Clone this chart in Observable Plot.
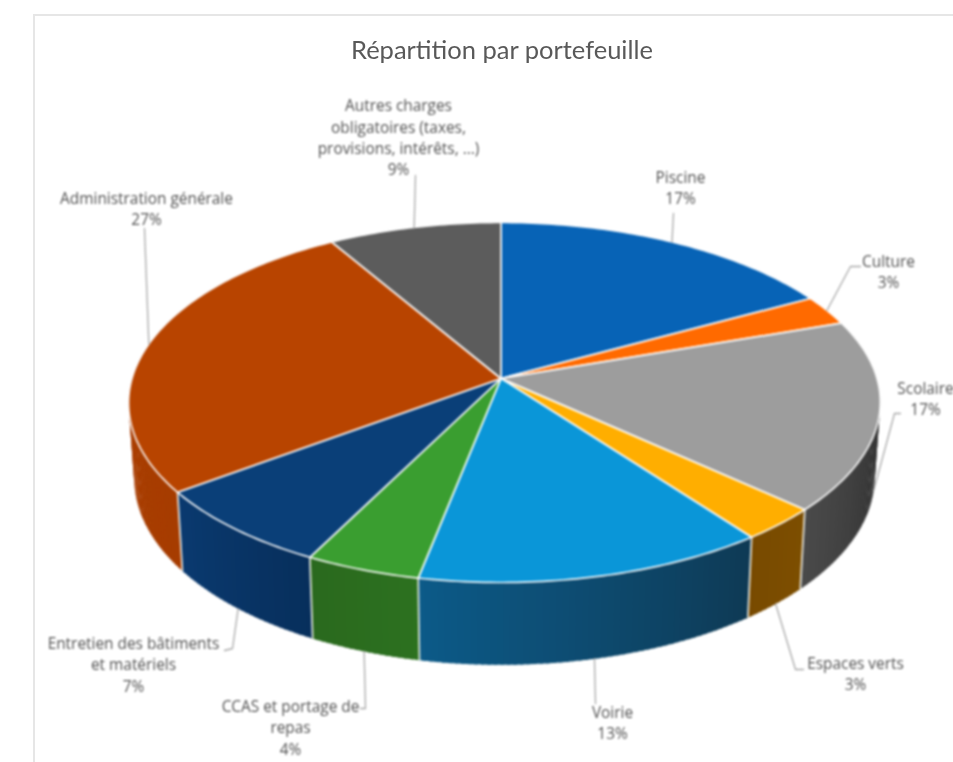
<!DOCTYPE html>
<html lang="fr">
<head>
<meta charset="utf-8">
<script src="https://cdn.jsdelivr.net/npm/d3@7"></script>
<script src="https://cdn.jsdelivr.net/npm/@observablehq/plot@0.6"></script>
<style>
html,body{margin:0;padding:0;background:#fff;overflow:hidden}
#card{position:absolute;left:33px;top:14px;right:0;bottom:0;border-left:2px solid #e6e6e6;border-top:2px solid #e6e6e6}
#title{position:relative;height:70px;box-sizing:border-box;padding-top:31px;margin:0;text-align:center;padding-left:51px;
 font:400 25.5px/36px Lato,sans-serif;color:#595959;filter:blur(.6px)}
#chart{position:relative;filter:blur(.9px)}
#chart svg{display:block;overflow:hidden}
</style>
</head>
<body>
<div id="card"></div>
<h1 id="title">Répartition par portefeuille</h1>
<div id="chart"></div>
<script>
// --- data (share of the budget per portfolio, %) ---
const categories = ["Piscine","Culture","Scolaire","Espaces verts","Voirie","CCAS et portage de repas","Entretien des bâtiments et matériels","Administration générale","Autres charges obligatoires (taxes, provisions, intérêts, ...)"];
const labelLines = ["Piscine","Culture","Scolaire","Espaces verts","Voirie","CCAS et portage de\nrepas","Entretien des bâtiments\net matériels","Administration générale","Autres charges\nobligatoires (taxes,\nprovisions, intérêts, ...)"];
const shares = [17.0,2.7,17.1,3.0,13.3,4.4,7.4,26.6,8.5];

// --- colours ---
const topColors = ["#0763b6","#ff6a00","#9d9d9d","#ffae00","#0a96d8","#3a9e30","#0a3f78","#b84400","#5c5c5c"];
const sideFrom  = ["#0763b6","#ff6a00","#2b2b2b","#7d4e00","#0e3a55","#2c711f","#072f5c","#a63c00","#5c5c5c"];
const sideTo    = ["#0763b6","#ff6a00","#4a4a4a","#784a00","#0c5a88","#2a691e","#0a3a70","#aa3e00","#5c5c5c"];
const inkColor = "#525252", leaderColor = "#a9a9a9";

// --- layout of the annotations (page coordinates) ---
const labelX = [680,888,925,855,612,290,133,146,398];
const labelY = [186,270,397,672,721,726,663,207,136];
const leaderBends = [[[673,213]],[[850,266],[860,266]],[[894,413],[900,413]],[[795,669],[803,669]],[[595,703]],[[365,708],[360,708]],[[232,648],[224,650]],[[144,228]],[[415,175]]];

// --- projection of the tilted disc ---
const cx = 500.5, cy = 378, A = 372.5, B = 176.8, persp = 0.1333, H = 74, shrink = 0.985, skew = 3.5;
const rad = p => p / 100 * 2 * Math.PI;
const top3d = p => { const u = Math.sin(rad(p)), v = Math.cos(rad(p)), w = 1 + persp * v; return [cx + A*u/w + skew*u*u, cy - B*v/w]; };
const bottom3d = p => { const u = Math.sin(rad(p)), v = Math.cos(rad(p)), w = 1 + persp * v; return [cx + shrink*A*u/w + skew*u*u, cy - shrink*B*v/w + H/w]; };

// cumulative bounds of every slice
const slices = []; let c = 0;
shares.forEach((s,i) => { slices.push({i, start:c, end:c+s, mid:c+s/2}); c += s; });

// side walls: thin overlapping strips, only the visible front part
const wall = [], frontStart = 25.5, frontEnd = 75, step = 0.25, overlap = 0.12;
const sep = [];
slices.forEach(({i,start,end}) => {
  const a = Math.max(start,frontStart), b = Math.min(end,frontEnd);
  if (a >= b) return;
  const col = d3.interpolateRgb(sideFrom[i], sideTo[i]);
  const n = Math.max(1, Math.ceil((b-a)/step));
  for (let k=0;k<n;k++){
    const p0 = a+(b-a)*k/n, p1 = a+(b-a)*(k+1)/n + overlap, f = col((k+.5)/n), id = `${i}-${k}`;
    for (const [x,y] of [top3d(p0),top3d(p1),bottom3d(p1),bottom3d(p0)]) wall.push({x,y,id,f});
  }
  if (end < frontEnd) { const [x1,y1]=top3d(end),[x2,y2]=bottom3d(end); sep.push({x1,y1,x2,y2}); }
});

// top faces
const faces = [];
slices.forEach(({i,start,end}) => {
  faces.push({x:cx,y:cy,i,f:topColors[i]});
  const n = Math.ceil((end-start)/0.25);
  for (let k=0;k<=n;k++){ const [x,y]=top3d(start+(end-start)*k/n); faces.push({x,y,i,f:topColors[i]}); }
  faces.push({x:cx,y:cy,i,f:topColors[i]});
});

// leader lines start on the rim at the middle of each slice
const leaders = [];
slices.forEach(({i,mid}) => {
  const front = Math.cos(rad(mid)) < 0;
  const [x,y] = front ? bottom3d(mid) : top3d(mid);
  leaders.push({x,y,i});
  leaderBends[i].forEach(([bx,by]) => leaders.push({x:bx,y:by,i}));
});

const labels = slices.map(({i}) => ({x:labelX[i],y:labelY[i],text:`${labelLines[i]}\n${Math.round(shares[i])}%`}));

const plot = Plot.plot({
  width: 953, height: 692,
  margin: 0,
  x:{domain:[0,953],range:[0,953],axis:null},
  y:{domain:[70,762],range:[0,692],axis:null},
  color:{type:"identity"},
  style:{background:"transparent"},
  marks:[
    Plot.line(wall,{x:"x",y:"y",z:"id",fill:"f",stroke:"none"}),
    Plot.link(sep,{x1:"x1",y1:"y1",x2:"x2",y2:"y2",stroke:"#f0f0e8",strokeWidth:1.8,strokeOpacity:.9}),
    Plot.line(faces,{x:"x",y:"y",z:"i",fill:"f",stroke:"#fff",strokeWidth:1.7,strokeOpacity:.9}),
    Plot.line(leaders,{x:"x",y:"y",z:"i",stroke:leaderColor,strokeWidth:1.3}),
    Plot.text(labels,{x:"x",y:"y",text:"text",fontFamily:"'Open Sans', sans-serif",fontSize:15.4,lineHeight:1.39,fill:inkColor,textAnchor:"middle"})
  ]
});
document.getElementById("chart").append(plot);
</script>
</body>
</html>
